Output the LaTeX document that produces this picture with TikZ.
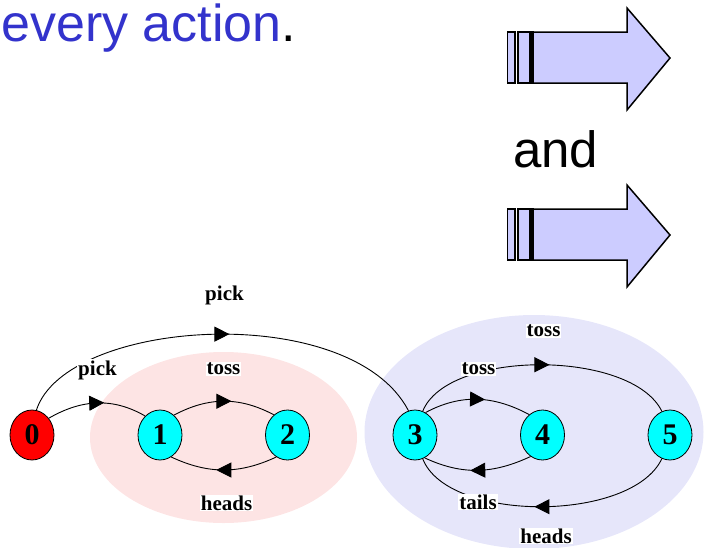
\documentclass[tikz,border=0pt]{standalone}
\usepackage{fontspec}
\setmainfont{Liberation Serif}
\newfontfamily\titlefont{Liberation Sans}
\usetikzlibrary{arrows.meta,decorations.markings,shapes.geometric}
\definecolor{titleblue}{RGB}{51,51,204}
\definecolor{arrowfill}{RGB}{204,204,255}
\definecolor{pinkreg}{RGB}{253,228,228}
\definecolor{lavreg}{RGB}{230,230,250}
\definecolor{statecyan}{RGB}{0,255,255}
\definecolor{statered}{RGB}{255,0,0}
\begin{document}
\begin{tikzpicture}[x=1pt,y=1pt,
  state/.style={ellipse,draw=black,line width=0.8pt,fill=statecyan,minimum width=44pt,minimum height=50pt,inner sep=0pt,font=\fontsize{30}{32}\selectfont\bfseries},
  lbl/.style={fill=white,inner sep=1pt,font=\fontsize{21}{23}\selectfont\bfseries},
  trans/.style={line width=0.9pt,postaction={decorate},decoration={markings,mark=at position 0.5 with {\arrow[xshift=7.5pt]{Triangle[length=15pt,width=15pt]}}}},
  blockarrow/.style={draw=black,line width=1.5pt,fill=arrowfill,line join=miter}
]
\useasboundingbox (0,0) rectangle (704,-547);
% title
\node[anchor=base west,inner sep=0pt,font=\titlefont\fontsize{52}{60}\selectfont] (title) at (1,-41) {\textcolor{titleblue}{every action}.};
\node[anchor=base west,inner sep=0pt,font=\titlefont\fontsize{51}{58}\selectfont] (and) at (513,-167) {and};
% block arrows
\foreach \dy in {0,177}{
  \begin{scope}[yshift=-\dy pt]
  \draw[blockarrow] (533,-32) -- (627,-32) -- (627,-8) -- (670,-58) -- (627,-110) -- (627,-83) -- (533,-83) -- cycle;
  \draw[draw=black,line width=1.5pt,fill=arrowfill] (507.5,-32) rectangle (515,-83);
  \draw[draw=black,line width=1.5pt,fill=arrowfill] (518,-32) rectangle (530,-83);
  \fill[black] (529,-31.25) rectangle (534,-83.75);
  \end{scope}
}
% regions
\fill[pinkreg] (223.5,-437.5) ellipse [x radius=133.5, y radius=85.5];
\fill[lavreg] (534,-432) ellipse [x radius=169.5, y radius=117];
% states
\node[state,fill=statered] (n0) at (32,-435) {0};
\node[state] (n1) at (160,-435) {1};
\node[state] (n2) at (287.5,-435) {2};
\node[state] (n3) at (415,-435) {3};
\node[state] (n4) at (542.5,-435) {4};
\node[state] (n5) at (670,-435) {5};
% transitions
\draw[trans] (n0.80) .. controls +(30,92) and +(-58,111) .. (n3.105);
\draw[trans] (n0.45) to[out=30,in=150] (n1.128);
\draw[trans] (n1.55) to[out=28,in=152] (n2.124);
\draw[trans] (n2.243) to[out=205,in=-25] (n1.297);
\draw[trans] (n3.65) to[out=28,in=152] (n4.123);
\draw[trans] (n4.241) to[out=205,in=-25] (n3.293);
\draw[trans] (n3.72) .. controls +(25,62) and +(-30,62) .. (n5.109);
\draw[trans] (n5.251) .. controls +(-30,-64) and +(25,-64) .. (n3.288);
% labels
\node[lbl] (l1) at (224.5,-295) {pick};
\node[lbl] (l2) at (97.5,-370) {pick};
\node[lbl] (l3) at (223.5,-369) {toss};
\node[lbl] (l4) at (226.5,-503) {heads};
\node[lbl] (l5) at (543.5,-331) {toss};
\node[lbl] (l6) at (478.5,-369) {toss};
\node[lbl] (l7) at (478,-502) {tails};
\node[lbl] (l8) at (546,-536) {heads};
\end{tikzpicture}
\end{document}
